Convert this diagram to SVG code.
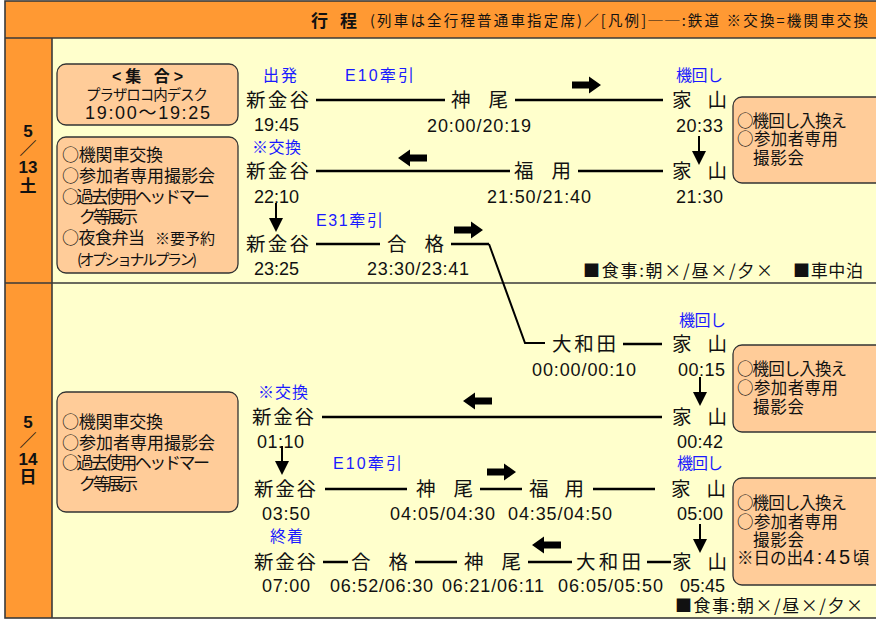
<svg xmlns="http://www.w3.org/2000/svg" xmlns:xlink="http://www.w3.org/1999/xlink" width="876" height="620" viewBox="0 0 876 620">
<style>
.st{font-family:'Noto Sans CJK JP',sans-serif;font-size:19.5px;fill:#111}
.tm{font-family:'Liberation Sans','Noto Sans CJK JP',sans-serif;font-size:18px;fill:#111}
.bl{font-family:'Liberation Sans','Noto Sans CJK JP',sans-serif;font-size:16px;fill:#1a1aff}
.bx{font-family:'Noto Sans CJK JP',sans-serif;font-size:17px;fill:#111}
.bs{font-family:'Noto Sans CJK JP',sans-serif;font-size:16.5px;fill:#111}
.dt{font-family:'Liberation Sans','Noto Sans CJK JP',sans-serif;font-size:17px;font-weight:bold;fill:#111;text-anchor:middle}
.box{fill:#ffcc99;stroke:#333;stroke-width:1.3}
.ln{stroke:#000;stroke-width:2.5;fill:none}
.grid{stroke:#3a3a3a;stroke-width:1.6;fill:none}
</style>
<defs>
<path id="ar" d="M0,-3.5 H17 V-8.5 L29,0 L17,8.5 V3.5 H0 Z" fill="#000"/>
<path id="al" d="M0,0 L12,-8.5 V-3.5 H29 V3.5 H12 V8.5 Z" fill="#000"/>
<g id="ad"><line x1="0" y1="0" x2="0" y2="16" stroke="#000" stroke-width="2"/><path d="M-7,15 H7 L0,29 Z" fill="#000"/></g>
</defs>

<!-- frame -->
<rect x="5" y="1" width="875" height="37" fill="#ff9933"/>
<rect x="5" y="38" width="47" height="580" fill="#ff9933"/>
<rect x="52" y="38" width="828" height="580" fill="#ffffcc"/>
<rect x="5" y="1" width="875" height="617" class="grid"/>
<line x1="5" y1="38" x2="880" y2="38" class="grid"/>
<line x1="52" y1="38" x2="52" y2="618" class="grid"/>
<line x1="5" y1="283" x2="880" y2="283" class="grid"/>

<g id="header">
<text x="311" y="27" textLength="46" style="font-family:'Noto Sans CJK JP',sans-serif;font-size:17px;font-weight:bold;fill:#111">行 程</text>
<text x="370" y="26" textLength="498" style="font-family:'Noto Sans CJK JP',sans-serif;font-size:14.5px;fill:#111">(列車は全行程普通車指定席)／[凡例]──:鉄道 ※交換=機関車交換</text>
</g>

<g id="date-513">
<text class="dt" x="28" y="137">5</text>
<text class="dt" x="28" y="155">／</text>
<text class="dt" x="28" y="173">13</text>
<text class="dt" x="28" y="192">土</text>
</g>
<g id="date-514">
<text class="dt" x="28" y="428">5</text>
<text class="dt" x="28" y="447">／</text>
<text class="dt" x="28" y="465">14</text>
<text class="dt" x="28" y="483">日</text>
</g>

<g id="connectors">
<line class="ln" x1="316" y1="100" x2="445" y2="100"/>
<line class="ln" x1="515" y1="100" x2="663" y2="100"/>
<line class="ln" x1="316" y1="171" x2="510" y2="171"/>
<line class="ln" x1="578" y1="171" x2="663" y2="171"/>
<line class="ln" x1="316" y1="244" x2="380" y2="244"/>
<line class="ln" x1="451" y1="244" x2="489" y2="244"/>
<polyline class="ln" style="stroke-width:2" points="489,244 525,343 545,343"/>
<line class="ln" x1="623" y1="344" x2="662" y2="344"/>
<line class="ln" x1="322" y1="417" x2="662" y2="417"/>
<line class="ln" x1="325" y1="489" x2="407" y2="489"/>
<line class="ln" x1="480" y1="489" x2="522" y2="489"/>
<line class="ln" x1="593" y1="489" x2="655" y2="489"/>
<line class="ln" x1="323" y1="562" x2="348" y2="562"/>
<line class="ln" x1="415" y1="562" x2="457" y2="562"/>
<line class="ln" x1="528" y1="562" x2="572" y2="562"/>
<line class="ln" x1="647" y1="562" x2="671" y2="562"/>
<use xlink:href="#ar" x="572" y="85"/>
<use xlink:href="#al" x="398" y="158"/>
<use xlink:href="#ar" x="454" y="230"/>
<use xlink:href="#al" x="463" y="401"/>
<use xlink:href="#ar" x="487" y="472"/>
<use xlink:href="#al" x="532" y="545"/>
<use xlink:href="#ad" x="699" y="136"/>
<use xlink:href="#ad" x="276" y="203"/>
<use xlink:href="#ad" x="700" y="377"/>
<use xlink:href="#ad" x="282" y="446"/>
<use xlink:href="#ad" x="700" y="524"/>
</g>

<g id="box-shugo">
<rect class="box" x="57" y="64" width="181" height="61" rx="9"/>
<text style="font-family:'Noto Sans CJK JP',sans-serif;fill:#111"><tspan x="112" y="82" textLength="71" style="font-family:'Liberation Sans','Noto Sans CJK JP',sans-serif;font-size:16px;font-weight:bold">&lt;集 合&gt;</tspan><tspan x="86" y="99.5" textLength="122" style="font-size:14.5px">プラザロコ内デスク</tspan><tspan x="85" y="118.5" textLength="125" style="font-family:'Liberation Sans','Noto Sans CJK JP',sans-serif;font-size:18px">19:00〜19:25</tspan></text>
</g>

<g id="box-event-513">
<rect class="box" x="57" y="137" width="181" height="136" rx="9"/>
<text class="bx"><tspan x="62" y="161.3" textLength="101">○機関車交換</tspan><tspan x="62" y="182.3" textLength="153">○参加者専用撮影会</tspan><tspan x="62" y="203.3" textLength="148">○過去使用ヘッドマー</tspan><tspan x="79" y="223.3" textLength="59">ク等展示</tspan><tspan x="62" y="244.3" textLength="83">○夜食弁当</tspan><tspan x="155" y="243.5" textLength="60" style="font-size:15px">※要予約</tspan><tspan x="77" y="264.5" textLength="120" style="font-size:15px">(オプショナルプラン)</tspan></text>
</g>

<g id="box-event-514">
<rect class="box" x="57" y="392" width="181" height="120" rx="9"/>
<text class="bx"><tspan x="62" y="428.3" textLength="101">○機関車交換</tspan><tspan x="62" y="449.3" textLength="153">○参加者専用撮影会</tspan><tspan x="62" y="469.3" textLength="148">○過去使用ヘッドマー</tspan><tspan x="79" y="490.3" textLength="59">ク等展示</tspan></text>
</g>

<g id="box-ieyama-1">
<rect class="box" x="733" y="97" width="160" height="86" rx="9"/>
<text class="bs"><tspan x="737" y="127" textLength="110">○機回し入換え</tspan><tspan x="737" y="145" textLength="101">○参加者専用</tspan><tspan x="753" y="164" textLength="51">撮影会</tspan></text>
</g>
<g id="box-ieyama-2">
<rect class="box" x="733" y="345" width="160" height="87" rx="9"/>
<text class="bs"><tspan x="737" y="375" textLength="110">○機回し入換え</tspan><tspan x="737" y="394" textLength="101">○参加者専用</tspan><tspan x="753" y="413" textLength="51">撮影会</tspan></text>
</g>
<g id="box-ieyama-3">
<rect class="box" x="733" y="478" width="160" height="107" rx="9"/>
<text class="bs"><tspan x="737" y="509" textLength="110">○機回し入換え</tspan><tspan x="737" y="528" textLength="101">○参加者専用</tspan><tspan x="753" y="546" textLength="51">撮影会</tspan><tspan x="737" y="564">※日の出</tspan><tspan style="font-family:'Liberation Sans',sans-serif;font-size:20px" textLength="47">4:45</tspan><tspan>頃</tspan></text>
</g>

<g id="meal-513">
<text class="bs" x="583" y="276.5" textLength="190" style="font-size:17px">■食事:朝×/昼×/夕×</text>
<text class="bs" x="793" y="276.5" textLength="70" style="font-size:17px">■車中泊</text>
</g>
<g id="meal-514">
<text class="bs" x="675" y="611.5" textLength="188" style="font-size:17px">■食事:朝×/昼×/夕×</text>
</g>

<!-- 5/13 stations -->
<g id="n-shinkanaya-dep">
<text class="bl" x="263" y="81" textLength="34">出発</text>
<text class="bl" x="345" y="81" textLength="69">E10牽引</text>
<text class="st" x="246" y="107" textLength="63">新金谷</text>
<text class="tm" x="254" y="130.5" textLength="45">19:45</text>
</g>
<g id="n-kamio-1">
<text class="st" x="451" y="107" textLength="57">神 尾</text>
<text class="tm" x="427" y="131.5" textLength="104">20:00/20:19</text>
</g>
<g id="n-ieyama-1">
<text class="bl" x="676" y="81" textLength="47">機回し</text>
<text class="st" x="672" y="107" textLength="55">家 山</text>
<text class="tm" x="676" y="131.5" textLength="47">20:33</text>
</g>
<g id="n-ieyama-2">
<text class="st" x="672" y="178" textLength="55">家 山</text>
<text class="tm" x="676" y="202.5" textLength="47">21:30</text>
</g>
<g id="n-fukuyo-1">
<text class="st" x="514" y="178" textLength="57">福 用</text>
<text class="tm" x="487" y="202.5" textLength="104">21:50/21:40</text>
</g>
<g id="n-shinkanaya-2">
<text class="bl" x="252" y="153" textLength="49">※交換</text>
<text class="st" x="246" y="178" textLength="63">新金谷</text>
<text class="tm" x="254" y="202.5" textLength="45">22:10</text>
</g>
<g id="n-shinkanaya-3">
<text class="bl" x="316" y="226" textLength="67">E31牽引</text>
<text class="st" x="246" y="251" textLength="63">新金谷</text>
<text class="tm" x="254" y="274.5" textLength="45">23:25</text>
</g>
<g id="n-goukaku-1">
<text class="st" x="387" y="251" textLength="57">合 格</text>
<text class="tm" x="367" y="274.5" textLength="102">23:30/23:41</text>
</g>

<!-- 5/14 stations -->
<g id="n-owada-1">
<text class="st" x="552" y="351" textLength="64">大和田</text>
<text class="tm" x="532" y="375.5" textLength="104">00:00/00:10</text>
</g>
<g id="n-ieyama-3">
<text class="bl" x="679" y="326" textLength="47">機回し</text>
<text class="st" x="672" y="351" textLength="55">家 山</text>
<text class="tm" x="678" y="375.5" textLength="47">00:15</text>
</g>
<g id="n-ieyama-4">
<text class="st" x="672" y="424" textLength="55">家 山</text>
<text class="tm" x="677" y="447.5" textLength="46">00:42</text>
</g>
<g id="n-shinkanaya-4">
<text class="bl" x="258" y="398" textLength="50">※交換</text>
<text class="st" x="252" y="424" textLength="62">新金谷</text>
<text class="tm" x="257" y="447.5" textLength="47">01:10</text>
</g>
<g id="n-shinkanaya-5">
<text class="bl" x="333" y="469" textLength="69">E10牽引</text>
<text class="st" x="254" y="496" textLength="62">新金谷</text>
<text class="tm" x="262" y="519.5" textLength="48">03:50</text>
</g>
<g id="n-kamio-2">
<text class="st" x="416" y="496" textLength="57">神 尾</text>
<text class="tm" x="390" y="519.5" textLength="105">04:05/04:30</text>
</g>
<g id="n-fukuyo-2">
<text class="st" x="529" y="496" textLength="55">福 用</text>
<text class="tm" x="508" y="519.5" textLength="104">04:35/04:50</text>
</g>
<g id="n-ieyama-5">
<text class="bl" x="677" y="469" textLength="46">機回し</text>
<text class="st" x="671" y="496" textLength="55">家 山</text>
<text class="tm" x="677" y="519.5" textLength="46">05:00</text>
</g>
<g id="n-ieyama-6">
<text class="st" x="672" y="569" textLength="55">家 山</text>
<text class="tm" x="680" y="591.5" textLength="45">05:45</text>
</g>
<g id="n-owada-2">
<text class="st" x="576" y="569" textLength="65">大和田</text>
<text class="tm" x="558" y="591.5" textLength="105">06:05/05:50</text>
</g>
<g id="n-kamio-3">
<text class="st" x="464" y="569" textLength="57">神 尾</text>
<text class="tm" x="442" y="591.5" textLength="102">06:21/06:11</text>
</g>
<g id="n-goukaku-2">
<text class="st" x="351" y="569" textLength="57">合 格</text>
<text class="tm" x="330" y="591.5" textLength="103">06:52/06:30</text>
</g>
<g id="n-shinkanaya-arr">
<text class="bl" x="270" y="542" textLength="33">終着</text>
<text class="st" x="254" y="569" textLength="62">新金谷</text>
<text class="tm" x="262" y="591.5" textLength="48">07:00</text>
</g>
</svg>
